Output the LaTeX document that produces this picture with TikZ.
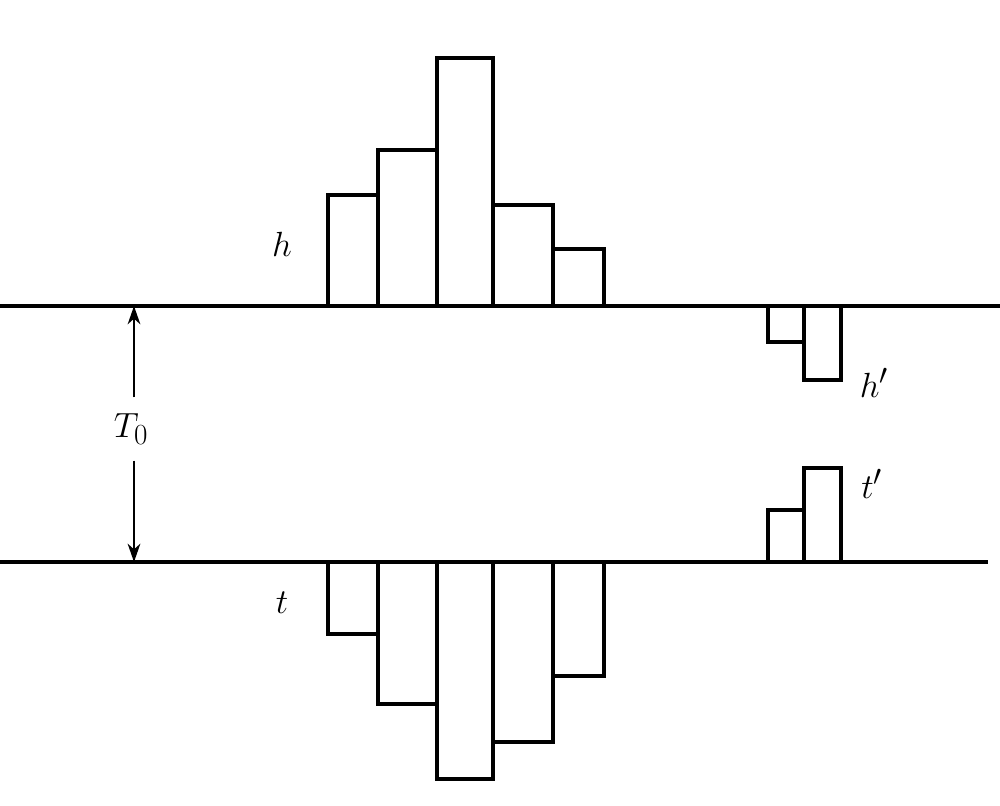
\documentclass[tikz,border=0pt]{standalone}
\usetikzlibrary{arrows.meta}
\usetikzlibrary{positioning}
\tikzset{
    lbl/.style = {font=\fontsize{29}{33}\selectfont, inner sep=0pt},
    bar/.style = {draw=black, line width=2.2pt},
    axisline/.style = {-, line width=2.4pt},
    dimline/.style = {-{Stealth[length=13pt,width=9pt,inset=4pt]}, line width=1.5pt}
}
\begin{document}
\begin{tikzpicture}[
	x=0.025cm,
	y=-0.025cm,
	line join=miter
]
\useasboundingbox (0,0) rectangle (1000,805);
%
\draw[axisline] (0,306) -- (1000,306);
\draw[axisline] (0,562) -- (988,562);
%
\draw[bar] (328,306) rectangle (378,195);
\draw[bar] (378,306) rectangle (437,150);
\draw[bar] (437,306) rectangle (493,58);
\draw[bar] (493,306) rectangle (553,205);
\draw[bar] (553,306) rectangle (604,249);
%
\draw[bar] (328,562) rectangle (378,634);
\draw[bar] (378,562) rectangle (437,704);
\draw[bar] (437,562) rectangle (493,779);
\draw[bar] (493,562) rectangle (553,742);
\draw[bar] (553,562) rectangle (604,676);
%
\draw[bar] (768,306) rectangle (804,342);
\draw[bar] (804,306) rectangle (841,380);
\draw[bar] (768,562) rectangle (804,510);
\draw[bar] (804,562) rectangle (841,468);
%
\node[lbl] at (282,244) (h) {$h$};
\node[lbl] at (282,603) (t) {$t$};
\node[lbl] at (874,383) (hp) {$h'$};
\node[lbl] at (872,484) (tp) {$t'$};
%
\coordinate (top) at (134,306);
\coordinate (bot) at (134,562);
\node[lbl, minimum height=1.57cm] at (131,429) (T0) {$T_{\mathrm{0}}$};
\draw[dimline] (T0.north -| top) -- (top);
\draw[dimline] (T0.south -| bot) -- (bot);
\end{tikzpicture}
\end{document}
